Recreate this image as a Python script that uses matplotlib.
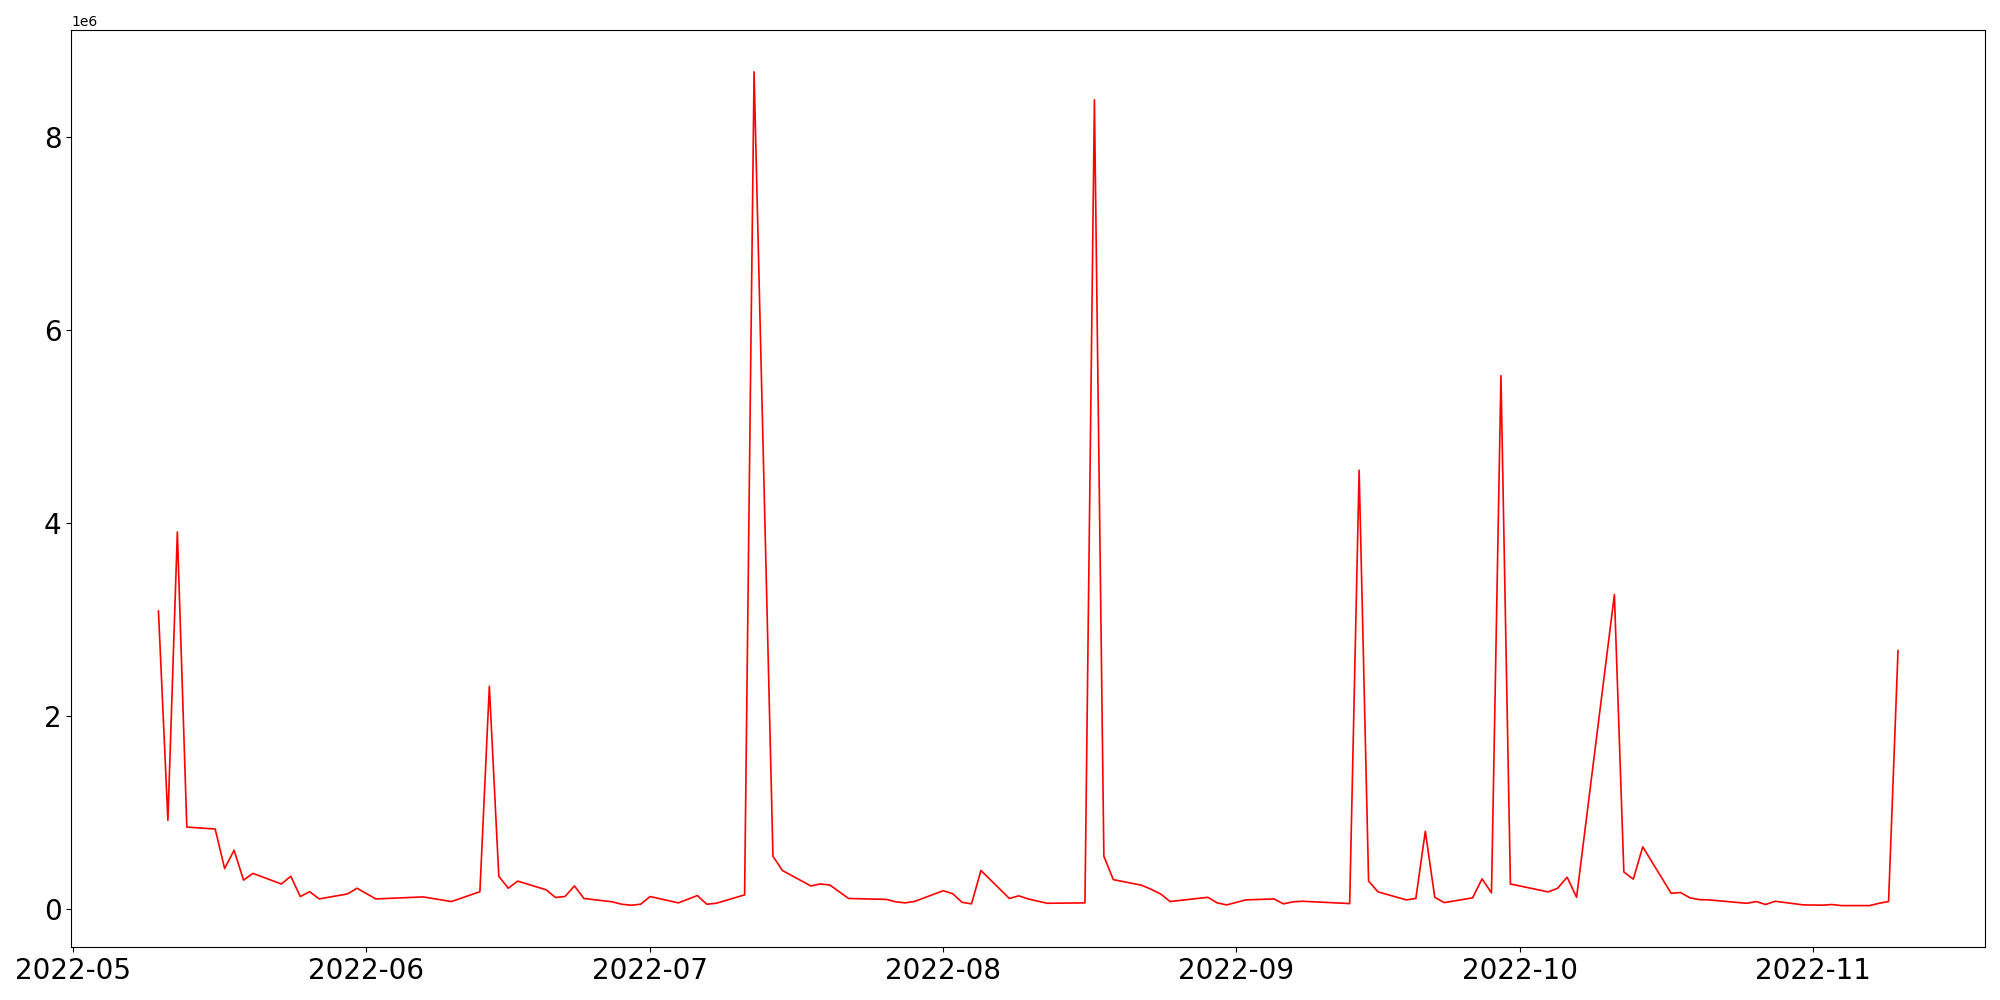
import matplotlib
matplotlib.use('Agg')
import matplotlib.pyplot as plt
import pandas as pd

# values (daily samples, units of 1e6 before scaling)
dates = ['2022-05-10', '2022-05-11', '2022-05-12', '2022-05-13', '2022-05-16', '2022-05-17',
         '2022-05-18', '2022-05-19', '2022-05-20', '2022-05-23', '2022-05-24', '2022-05-25',
         '2022-05-26', '2022-05-27', '2022-05-30', '2022-05-31', '2022-06-02', '2022-06-07',
         '2022-06-10', '2022-06-13', '2022-06-14', '2022-06-15', '2022-06-16', '2022-06-17',
         '2022-06-20', '2022-06-21', '2022-06-22', '2022-06-23', '2022-06-24', '2022-06-27',
         '2022-06-28', '2022-06-29', '2022-06-30', '2022-07-01', '2022-07-04', '2022-07-06',
         '2022-07-07', '2022-07-08', '2022-07-11', '2022-07-12', '2022-07-14', '2022-07-15',
         '2022-07-18', '2022-07-19', '2022-07-20', '2022-07-22', '2022-07-26', '2022-07-27',
         '2022-07-28', '2022-07-29', '2022-08-01', '2022-08-02', '2022-08-03', '2022-08-04',
         '2022-08-05', '2022-08-08', '2022-08-09', '2022-08-10', '2022-08-12', '2022-08-16',
         '2022-08-17', '2022-08-18', '2022-08-19', '2022-08-22', '2022-08-23', '2022-08-24',
         '2022-08-25', '2022-08-29', '2022-08-30', '2022-08-31', '2022-09-02', '2022-09-05',
         '2022-09-06', '2022-09-07', '2022-09-08', '2022-09-13', '2022-09-14', '2022-09-15',
         '2022-09-16', '2022-09-19', '2022-09-20', '2022-09-21', '2022-09-22', '2022-09-23',
         '2022-09-26', '2022-09-27', '2022-09-28', '2022-09-29', '2022-09-30', '2022-10-04',
         '2022-10-05', '2022-10-06', '2022-10-07', '2022-10-11', '2022-10-12', '2022-10-13',
         '2022-10-14', '2022-10-17', '2022-10-18', '2022-10-19', '2022-10-20', '2022-10-21',
         '2022-10-25', '2022-10-26', '2022-10-27', '2022-10-28', '2022-10-31', '2022-11-01',
         '2022-11-02', '2022-11-03', '2022-11-04', '2022-11-07', '2022-11-08', '2022-11-09',
         '2022-11-10']

values = [3.09, 0.92, 3.91, 0.85, 0.83, 0.42,
          0.61, 0.30, 0.37, 0.26, 0.34, 0.13,
          0.18, 0.105, 0.157, 0.216, 0.105, 0.126,
          0.078, 0.18, 2.31, 0.34, 0.216, 0.29,
          0.20, 0.12, 0.13, 0.24, 0.11, 0.075,
          0.05, 0.04, 0.05, 0.13, 0.064, 0.14,
          0.05, 0.06, 0.147, 8.68, 0.547, 0.40,
          0.24, 0.26, 0.25, 0.11, 0.10, 0.075,
          0.064, 0.08, 0.19, 0.16, 0.07, 0.054,
          0.40, 0.11, 0.137, 0.105, 0.06, 0.064,
          8.39, 0.547, 0.305, 0.247, 0.205, 0.157,
          0.078, 0.122, 0.064, 0.043, 0.095, 0.105,
          0.054, 0.075, 0.081, 0.057, 4.55, 0.29,
          0.178, 0.095, 0.11, 0.806, 0.122, 0.067,
          0.116, 0.313, 0.168, 5.53, 0.26, 0.178,
          0.216, 0.33, 0.122, 3.26, 0.385, 0.31,
          0.645, 0.164, 0.171, 0.116, 0.098, 0.095,
          0.06, 0.078, 0.047, 0.081, 0.043, 0.042,
          0.04, 0.047, 0.036, 0.036, 0.06, 0.078,
          2.68]

x = pd.to_datetime(dates)
y = [v * 1e6 for v in values]

fig, ax = plt.subplots(figsize=(20, 10), dpi=100)
ax.plot(x, y, color='red', linewidth=1.2)
ax.tick_params(axis='both', labelsize=20)
plt.tight_layout()
plt.savefig('out.png')
